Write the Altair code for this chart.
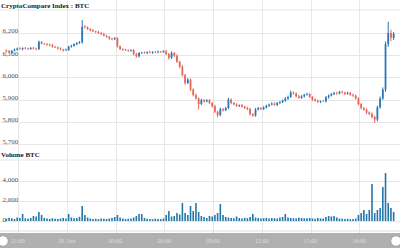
import altair as alt
import pandas as pd

# ---------------- data ----------------
first_open = 6122
closes = [
    6118, 6112, 6120, 6125, 6130, 6128, 6132, 6130, 6128, 6133,
    6130, 6128, 6160, 6152, 6150, 6148, 6145, 6138, 6135, 6130,
    6126, 6122, 6124, 6138, 6142, 6150, 6155, 6158, 6228, 6225,
    6218, 6212, 6208, 6205, 6200, 6195, 6188, 6182, 6175, 6172,
    6176, 6140, 6128, 6124, 6122, 6120, 6123, 6105, 6095, 6110,
    6112, 6110, 6114, 6112, 6115, 6113, 6116, 6114, 6118, 6105,
    6088, 6110, 6098, 6070, 6048, 6010, 5975, 5990, 5945, 5920,
    5905, 5880, 5898, 5892, 5897, 5885, 5870, 5845, 5830, 5858,
    5852, 5862, 5900, 5885, 5878, 5872, 5875, 5868, 5862, 5858,
    5835, 5828, 5855, 5862, 5858, 5864, 5872, 5878, 5882, 5876,
    5885, 5888, 5895, 5905, 5912, 5932, 5928, 5915, 5908, 5915,
    5922, 5925, 5912, 5900, 5895, 5890, 5893, 5892, 5910, 5918,
    5925, 5930, 5928, 5935, 5932, 5926, 5930, 5922, 5918, 5905,
    5880, 5862, 5855, 5842, 5835, 5822, 5810, 5865, 5905, 5945,
    6150, 6200, 6178, 6195,
]
upper_wick = [
    4, 6, 3, 5, 4, 6, 3, 5, 4, 3,
    5, 4, 6, 4, 3, 5, 4, 6, 3, 4,
    5, 3, 6, 4, 5, 3, 4, 6, 30, 8,
    5, 4, 6, 3, 5, 4, 6, 4, 5, 3,
    6, 5, 4, 3, 5, 4, 3, 5, 6, 4,
    3, 5, 4, 6, 3, 4, 5, 3, 4, 6,
    5, 7, 4, 6, 5, 8, 6, 7, 5, 6,
    7, 5, 6, 4, 5, 6, 4, 7, 5, 6,
    4, 5, 8, 5, 4, 6, 3, 5, 4, 6,
    5, 4, 7, 5, 4, 6, 5, 4, 6, 5,
    4, 6, 5, 7, 6, 8, 5, 4, 6, 5,
    4, 6, 5, 4, 6, 5, 3, 4, 6, 5,
    4, 5, 6, 4, 5, 3, 6, 4, 5, 4,
    6, 5, 4, 6, 5, 7, 6, 8, 9, 10,
    12, 50, 15, 10,
]
lower_wick = [
    5, 4, 6, 3, 5, 4, 6, 3, 5, 4,
    4, 6, 5, 3, 4, 6, 5, 4, 3, 5,
    4, 6, 3, 5, 4, 3, 5, 4, 6, 5,
    4, 5, 3, 6, 4, 5, 3, 4, 6, 5,
    4, 6, 5, 4, 3, 5, 4, 6, 6, 5,
    4, 3, 5, 4, 6, 3, 5, 4, 3, 5,
    8, 5, 6, 5, 7, 6, 8, 5, 7, 6,
    5, 25, 5, 6, 4, 5, 7, 6, 10, 5,
    6, 4, 5, 6, 4, 5, 6, 4, 5, 6,
    7, 6, 5, 4, 6, 5, 4, 6, 5, 4,
    5, 6, 4, 5, 6, 4, 5, 6, 4, 5,
    6, 4, 5, 6, 4, 5, 6, 4, 5, 6,
    4, 5, 6, 4, 5, 6, 4, 5, 6, 5,
    6, 7, 5, 8, 6, 7, 15, 8, 6, 7,
    10, 12, 15, 10,
]
volumes = [
    250, 320, 280, 200, 350, 300, 700, 260, 220, 300,
    500, 450, 900, 600, 300, 250, 200, 280, 220, 190,
    240, 300, 260, 700, 350, 280, 300, 420, 1500, 600,
    350, 250, 200, 230, 180, 260, 220, 200, 250, 300,
    400, 600, 350, 250, 200, 220, 260, 350, 500, 700,
    700, 300, 220, 200, 180, 240, 210, 190, 260, 600,
    1000, 450, 500, 800, 650, 1800, 800, 600, 1500, 1000,
    1800, 900, 500, 400, 300, 500, 450, 600, 800, 1700,
    600, 400, 350, 300, 280, 450, 300, 250, 320, 280,
    400, 700, 350, 300, 260, 280, 320, 250, 300, 280,
    260, 350, 400, 700, 350, 300, 280, 250, 320, 300,
    260, 280, 300, 250, 220, 300, 260, 240, 400, 500,
    450, 500, 350, 250, 220, 200, 230, 180, 200, 250,
    600, 800, 1100, 700, 1100, 3700, 800, 1100, 1300, 3400,
    4800, 1800, 1300, 900,
]
start_time = "2018-06-28 20:12"
tick_times = ["2018-06-28T21:00:00", "2018-06-29T00:00:00", "2018-06-29T03:00:00",
              "2018-06-29T06:00:00", "2018-06-29T09:00:00", "2018-06-29T12:00:00",
              "2018-06-29T15:00:00", "2018-06-29T18:00:00"]
tick_labels = ["21:00", "29. Jun", "03:00", "06:00", "09:00", "12:00", "15:00", "18:00"]
price_ticks = [5700, 5800, 5900, 6000, 6100, 6200]
volume_ticks = [0, 2000, 4000]

# ---------------- table ----------------
t0 = pd.Timestamp(start_time)
n = len(closes)
opens = [first_open] + closes[:-1]
rows = []
for i in range(n):
    o, c = opens[i], closes[i]
    rows.append({
        "time": (t0 + pd.Timedelta(minutes=10 * i + 5)).strftime("%Y-%m-%dT%H:%M:%S"),
        "open": o, "close": c,
        "high": max(o, c) + upper_wick[i],
        "low": min(o, c) - lower_wick[i],
        "dir": "up" if c >= o else "down",
        "vol": volumes[i], "v0": 0,
    })
df = pd.DataFrame(rows)
ticks_df = pd.DataFrame({"time": tick_times, "label": tick_labels})
one = pd.DataFrame({"a": [0]})

x_start = t0.strftime("%Y-%m-%dT%H:%M:%S")
x_end = (t0 + pd.Timedelta(hours=24)).strftime("%Y-%m-%dT%H:%M:%S")
x_scale = alt.Scale(domain=[x_start, x_end])

serif = "Liberation Serif"
grid_c = "#e6e6e6"

x_axis = alt.Axis(values=[alt.DateTime(year=2018, month=6, date=28, hours=21)] +
                  [alt.DateTime(year=2018, month=6, date=29, hours=h) for h in range(0, 19, 3)],
                  grid=True, gridColor=grid_c, labels=False, ticks=False, domain=False, title=None)

price_y = alt.Scale(domain=[5231.5, 6348.6], nice=False, zero=False)
price_axis = alt.Axis(values=price_ticks, orient="left", grid=True, gridColor=grid_c,
                      domain=False, ticks=False, labelAlign="left", labelBaseline="alphabetic",
                      labelPadding=-2, labelFont=serif, labelFontSize=7, labelColor="#555",
                      format=",.0f", title=None)
color = alt.Color("dir:N", scale=alt.Scale(domain=["up", "down"], range=["#2b77b8", "#e4675a"]),
                  legend=None)

base = alt.Chart(df)
wicks = base.mark_rule(strokeWidth=1).encode(
    x=alt.X("time:T", scale=x_scale, axis=x_axis),
    y=alt.Y("low:Q", scale=price_y, axis=price_axis),
    y2="high:Q",
    color=color,
)
bodies = base.mark_bar(size=1.8).encode(
    x=alt.X("time:T", scale=x_scale),
    y=alt.Y("open:Q", scale=price_y),
    y2="close:Q",
    color=color,
)
price = alt.layer(wicks, bodies)

vol_y = alt.Scale(domain=[-2700, 22100], nice=False, zero=False)
vol_axis = alt.Axis(values=volume_ticks, orient="left", grid=True, gridColor=grid_c,
                    domain=False, ticks=False, labelAlign="left", labelBaseline="alphabetic",
                    labelPadding=-2, labelFont=serif, labelFontSize=7, labelColor="#555",
                    format=",.0f", title=None)
vol = base.mark_bar(size=1.6, color="#2277aa").encode(
    x=alt.X("time:T", scale=x_scale),
    y=alt.Y("vol:Q", scale=vol_y, axis=vol_axis),
    y2="v0:Q",
)

def hline(y):
    return alt.Chart(one).mark_rule(color=grid_c, strokeWidth=1).encode(
        x=alt.value(0), x2=alt.value(400), y=alt.value(y))

title1 = alt.Chart(one).mark_text(align="left", baseline="middle", font=serif, fontSize=7,
                                  fontWeight="bold", color="#222").encode(
    x=alt.value(1), y=alt.value(6), text=alt.value("CryptoCompare Index : BTC"))
title2 = alt.Chart(one).mark_text(align="left", baseline="middle", font=serif, fontSize=7,
                                  fontWeight="bold", color="#222").encode(
    x=alt.value(1), y=alt.value(155), text=alt.value("Volume BTC"))

nav_bg = alt.Chart(one).mark_rect(color="#b0b0b0").encode(
    x=alt.value(0), x2=alt.value(400), y=alt.value(233), y2=alt.value(248))
nav_top = alt.Chart(one).mark_rule(color="#dddddd").encode(
    x=alt.value(0), x2=alt.value(400), y=alt.value(231))
nav_text = alt.Chart(ticks_df).mark_text(font=serif, fontSize=6, color="#dedede",
                                          baseline="middle").encode(
    x=alt.X("time:T", scale=x_scale), y=alt.value(241), text="label:N")

def handle(xpx):
    return alt.Chart(one).mark_point(
        shape="circle", filled=True, fill="white", stroke="#999", strokeWidth=0.8, size=110,
        opacity=1).encode(x=alt.value(xpx), y=alt.value(241))

chart = alt.layer(
    hline(10), hline(160),
    price, vol,
    title1, title2,
    nav_top, nav_bg, nav_text, handle(3), handle(396),
).resolve_scale(y="independent").properties(
    width=400, height=248, background="white", padding=0,
    autosize=alt.AutoSizeParams(type="none"),
).configure_view(stroke=None)

chart.save("out.html", embed_options={"renderer": "svg", "actions": False})
